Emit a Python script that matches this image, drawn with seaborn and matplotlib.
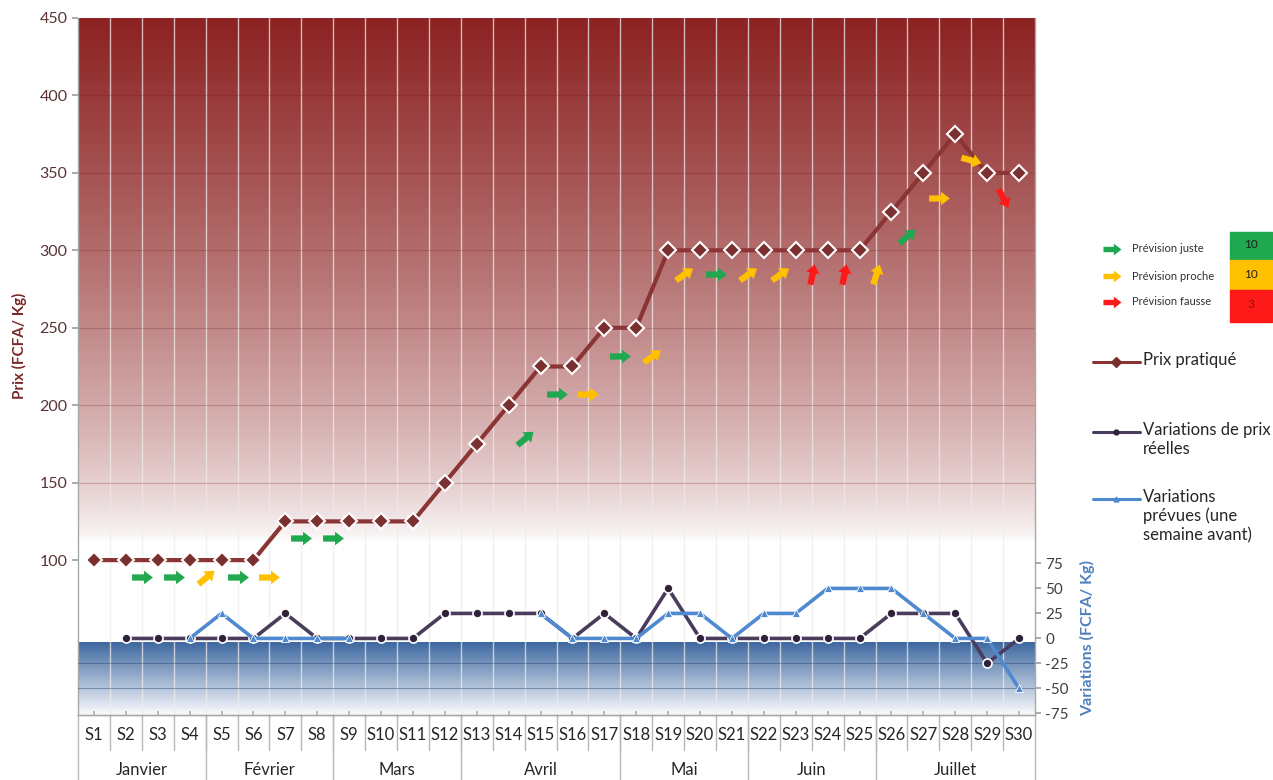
import numpy as np
import pandas as pd
import matplotlib
matplotlib.use("Agg")
import matplotlib.pyplot as plt
import seaborn as sns
from matplotlib.path import Path
from matplotlib.markers import MarkerStyle
from matplotlib.transforms import Affine2D, blended_transform_factory
from matplotlib.lines import Line2D
from matplotlib.patches import Rectangle

# ---------------------------------------------------------------- data
weeks = [f"S{i}" for i in range(1, 31)]
months = ["Janvier", "Février", "Mars", "Avril", "Mai", "Juin", "Juillet"]
weeks_per_month = [4, 4, 4, 5, 4, 4, 5]

prix_pratique = [100, 100, 100, 100, 100, 100, 125, 125, 125, 125,
                 125, 150, 175, 200, 225, 225, 250, 250, 300, 300,
                 300, 300, 300, 300, 300, 325, 350, 375, 350, 350]

nan = np.nan
variations_reelles = [nan, 0, 0, 0, 0, 0, 25, 0, 0, 0,
                      0, 25, 25, 25, 25, 0, 25, 0, 50, 0,
                      0, 0, 0, 0, 0, 25, 25, 25, -25, 0]

variations_prevues = [nan, nan, nan, 0, 25, 0, 0, 0, 0, nan,
                      nan, nan, nan, nan, 25, 0, 0, 0, 25, 25,
                      0, 25, 25, 50, 50, 50, 25, 0, 0, -50]

# forecast arrows: week before which the arrow sits, height (price scale),
# quality of the forecast and pointing angle
arrow_week = [3, 4, 5, 6, 7, 8, 9, 15, 16, 17, 18, 19, 20, 21, 22, 23,
              24, 25, 26, 27, 28, 29, 30]
arrow_level = [89, 89, 89, 89, 89, 114, 114, 179, 207, 207, 232, 232,
               285, 285, 285, 285, 285, 285, 285, 309, 334, 358, 334]
arrow_quality = ["juste", "juste", "proche", "juste", "proche", "juste",
                 "juste", "juste", "juste", "proche", "juste", "proche",
                 "proche", "juste", "proche", "proche", "fausse", "fausse",
                 "proche", "juste", "proche", "proche", "fausse"]
arrow_angle = [0, 0, 40, 0, 0, 0, 0, 40, 0, 0, 0, 35, 35, 0, 35, 35,
               78, 78, 72, 40, 0, -15, -62]

legend_labels = ["Prévision juste", "Prévision proche", "Prévision fausse"]
legend_counts = [10, 10, 3]

# ---------------------------------------------------------------- style
sns.set_theme(style="white")
plt.rcParams["font.family"] = ["Lato", "DejaVu Sans"]

C_PRIX = "#8a3434"
C_REEL = "#4a3c5c"
C_PREV = "#4f8ad0"
C_QUAL = {"juste": "#1fa84f", "proche": "#ffc000", "fausse": "#ff1a1a"}

W, H = 1273, 780
fig = plt.figure(figsize=(W / 100, H / 100), dpi=100)
ax = fig.add_axes([78 / W, 65 / H, (1035 - 78) / W, (715 - 18) / H])
ax2 = ax.twinx()

n = len(weeks)
x = np.arange(n)
ax.set_xlim(-0.5, n - 0.5)
ax.set_ylim(0, 450)
LO2, HI2 = -76.5, 620
ax2.set_ylim(LO2, HI2)


def to_primary(v):
    return (v - LO2) / (HI2 - LO2) * 450


# ---------------------------------------------------------------- backgrounds
red_base = np.array([140, 34, 34]) / 255
t = np.linspace(0, 1, 256)[:, None]
alpha = t ** 0.7
red_img = np.ones((256, 1, 3)) * (1 - alpha[..., None]) + red_base * alpha[..., None]
ax.imshow(red_img, extent=(-0.5, n - 0.5, 112, 450), origin="lower",
          aspect="auto", zorder=0, interpolation="bilinear")

blue_base = np.array([62, 104, 160]) / 255
s = np.linspace(0, 1, 256)[:, None]
beta = s ** 1.0
blue_img = np.ones((256, 1, 3)) * (1 - beta[..., None]) + blue_base * beta[..., None]
ax.imshow(blue_img, extent=(-0.5, n - 0.5, to_primary(-78), to_primary(-4)),
          origin="lower", aspect="auto", zorder=0, interpolation="bilinear")

# grid
for xb in np.arange(0.5, n - 0.5, 1):
    ax.axvline(xb, color=(0.94, 0.92, 0.92), lw=1.0, alpha=0.75, zorder=1)
for yv in [150, 200, 250, 300, 350, 400]:
    ax.axhline(yv, color="#6e1f1f", lw=0.8, alpha=0.25, zorder=1)
for yv in [-25, -50]:
    ax2.axhline(yv, color="#2c4570", lw=0.8, alpha=0.45, zorder=0)

# ---------------------------------------------------------------- price line
df_prix = pd.DataFrame({"x": x, "prix": prix_pratique})
sns.lineplot(data=df_prix, x="x", y="prix", ax=ax, color=C_PRIX, lw=3,
             marker="D", markersize=8, markerfacecolor="#7a3030",
             markeredgecolor="white", markeredgewidth=1.5, zorder=4)


# ---------------------------------------------------------------- variation lines
def segments(values):
    seg, rows, prev_nan = 0, [], True
    for i, v in enumerate(values):
        if np.isnan(v):
            prev_nan = True
            continue
        if prev_nan:
            seg += 1
        prev_nan = False
        rows.append((i, v, seg))
    return pd.DataFrame(rows, columns=["x", "v", "seg"])


df_reel = segments(variations_reelles)
df_prev = segments(variations_prevues)
sns.lineplot(data=df_reel, x="x", y="v", units="seg", estimator=None, ax=ax2,
             color=C_REEL, lw=2.6, marker="o", markersize=6.5,
             markerfacecolor="#2e2238", markeredgecolor="white",
             markeredgewidth=1.2, zorder=3)
sns.lineplot(data=df_prev, x="x", y="v", units="seg", estimator=None, ax=ax2,
             color=C_PREV, lw=2.6, marker="^", markersize=6,
             markerfacecolor=C_PREV, markeredgecolor="white",
             markeredgewidth=0.6, zorder=4)


# ---------------------------------------------------------------- forecast arrows
def arrow_marker(angle):
    verts = [(-1, -0.3), (0.15, -0.3), (0.15, -0.65), (1, 0), (0.15, 0.65),
             (0.15, 0.3), (-1, 0.3), (-1, -0.3)]
    codes = [Path.MOVETO] + [Path.LINETO] * 6 + [Path.CLOSEPOLY]
    return MarkerStyle(Path(verts, codes), transform=Affine2D().rotate_deg(angle))


for wk, lvl, q, ang in zip(arrow_week, arrow_level, arrow_quality, arrow_angle):
    ax.plot([wk - 1.5], [lvl], linestyle="none", marker=arrow_marker(ang),
            markersize=15, color=C_QUAL[q], markeredgewidth=0, zorder=5)

# ---------------------------------------------------------------- axes cosmetics
ax.set_xlabel("")
ax.set_ylabel("Prix (FCFA/ Kg)", color="#7a2828", fontsize=11,
              fontweight="bold")
ax.yaxis.set_label_coords(-0.053, 0.53)
ax.set_yticks([100, 150, 200, 250, 300, 350, 400, 450])
ax.tick_params(axis="y", colors="#a0a0a0", labelcolor="#5a3434",
               labelsize=11.5, length=4, direction="out", left=True)
ax.set_xticks(x)
ax.set_xticklabels([])
ax.tick_params(axis="x", direction="in", length=3, colors="#b0b0b0", bottom=True)

ax2.set_ylabel("Variations (FCFA/ Kg)", color="#4f81bd", fontsize=11.5,
               fontweight="bold")
ax2.yaxis.set_label_coords(1.047, 0.11)
ax2.set_yticks([-75, -50, -25, 0, 25, 50, 75])
ax2.set_yticklabels(["-75", "-50", "-25", "0", "25", "50", "75"])
ax2.tick_params(axis="y", colors="#a0a0a0", labelcolor="#404040",
                labelsize=11, length=4, direction="out", right=True)

for a in (ax, ax2):
    a.spines["top"].set_visible(False)
    for side in ("left", "right", "bottom"):
        a.spines[side].set_color("#a8a8a8")
        a.spines[side].set_linewidth(1.0)
ax2.spines["left"].set_visible(False)
ax.spines["right"].set_visible(False)

# category and month labels under the axis
trans = blended_transform_factory(ax.transData, ax.transAxes)
for i, w in enumerate(weeks):
    ax.text(i, -0.029, w, transform=trans, ha="center", va="center",
            fontsize=12, color="#262626")
for xb in np.arange(0.5, n - 0.5, 1):
    ax.plot([xb, xb], [0, -0.05], transform=trans, clip_on=False,
            color="#b8b8b8", lw=1)
bounds = np.concatenate([[0], np.cumsum(weeks_per_month)]) - 0.5
for xb in bounds:
    ax.plot([xb, xb], [0, -0.1], transform=trans, clip_on=False,
            color="#b8b8b8", lw=1)
for m, a0, a1 in zip(months, bounds[:-1], bounds[1:]):
    ax.text((a0 + a1) / 2, -0.079, m, transform=trans, ha="center",
            va="center", fontsize=12, color="#262626")

# ---------------------------------------------------------------- legend
def fx(px):
    return px / W


def fy(py):
    return 1 - py / H


box_tops = [232, 260, 290]
box_bottoms = [260, 290, 322]
arrow_rows = [249, 276, 302]
count_rows = [245, 274, 305]
for lab, cnt, q, top, bot, ya, yc in zip(legend_labels, legend_counts,
                                         ["juste", "proche", "fausse"],
                                         box_tops, box_bottoms,
                                         arrow_rows, count_rows):
    fig.add_artist(Line2D([fx(1112)], [fy(ya)], marker=arrow_marker(0),
                          markersize=13, color=C_QUAL[q], markeredgewidth=0,
                          linestyle="none", transform=fig.transFigure))
    fig.text(fx(1132), fy(ya), lab, fontsize=8, color="#303030",
             ha="left", va="center")
    fig.add_artist(Rectangle((fx(1230), fy(bot)), fx(42), (bot - top) / H,
                             transform=fig.transFigure, color=C_QUAL[q],
                             zorder=1))
    fig.text(fx(1251), fy(yc), str(cnt), fontsize=8.5,
             color="#7a1a00" if q == "fausse" else "#202020",
             ha="center", va="center", zorder=2)

line_items = [
    (362, C_PRIX, "D", 5, "#7a3030", "Prix pratiqué"),
    (432, C_REEL, "o", 3.5, "#2e2238", "Variations de prix\nréelles"),
    (499, C_PREV, "^", 3.5, C_PREV, "Variations\nprévues (une\nsemaine avant)"),
]
for yy, col, mk, ms, mfc, txt in line_items:
    fig.add_artist(Line2D([fx(1093), fx(1140)], [fy(yy), fy(yy)], color=col,
                          lw=2.2, transform=fig.transFigure))
    fig.add_artist(Line2D([fx(1116)], [fy(yy)], marker=mk, markersize=ms,
                          color=mfc, linestyle="none",
                          transform=fig.transFigure))
    fig.text(fx(1143), fy(yy - 10), txt, fontsize=12, color="#262626",
             ha="left", va="top", linespacing=1.2)

fig.savefig("out.png", dpi=100)
